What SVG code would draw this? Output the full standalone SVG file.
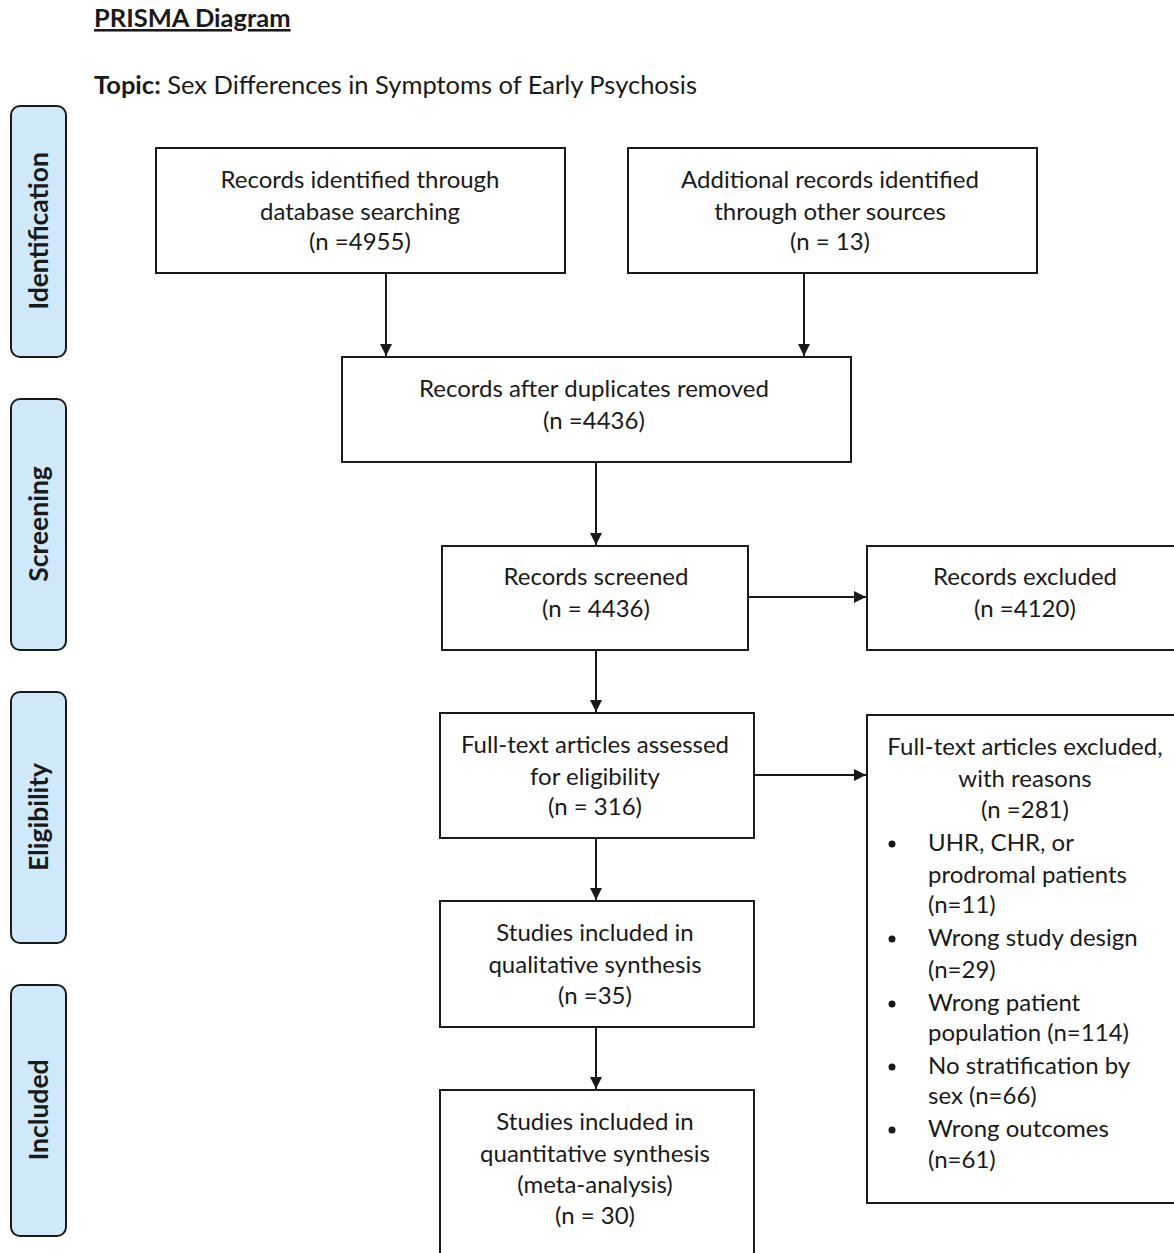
<svg xmlns="http://www.w3.org/2000/svg" width="1174" height="1253" viewBox="0 0 1174 1253">
<defs>
<style>
.t{font-family:Lato,"Liberation Sans",sans-serif;font-size:24px;fill:#1a1a1a}
.h{font-size:25.5px}
.c{text-anchor:middle}
.box{fill:#fff;stroke:#1a1a1a;stroke-width:2}
.side{fill:#cfe9fa;stroke:#1a1a1a;stroke-width:2}
.sl{font-family:Lato,"Liberation Sans",sans-serif;font-size:26.5px;font-weight:bold;fill:#1a1a1a;text-anchor:middle}
.con line{stroke:#1a1a1a;stroke-width:2}
</style>
<marker id="ah" viewBox="0 0 10 10" refX="10" refY="5" markerWidth="12" markerHeight="12" markerUnits="userSpaceOnUse" orient="auto">
<path d="M0,0 L10,5 L0,10 z" fill="#1a1a1a"/>
</marker>
</defs>
<rect width="1174" height="1253" fill="#fff"/>
<g id="title">
<text class="t h" x="94" y="27" font-weight="bold" text-decoration="underline">PRISMA Diagram</text>
<text class="t h" x="94" y="94"><tspan font-weight="bold">Topic:</tspan> Sex Differences in Symptoms of Early Psychosis</text>
</g>
<g id="side-identification">
<rect class="side" x="11" y="106" width="55" height="251" rx="9"/>
<text class="sl" transform="translate(48,231) rotate(-90)">Identification</text>
</g>
<g id="side-screening">
<rect class="side" x="11" y="399" width="55" height="251" rx="9"/>
<text class="sl" transform="translate(48,524) rotate(-90)">Screening</text>
</g>
<g id="side-eligibility">
<rect class="side" x="11" y="692" width="55" height="251" rx="9"/>
<text class="sl" transform="translate(48,817) rotate(-90)">Eligibility</text>
</g>
<g id="side-included">
<rect class="side" x="11" y="985" width="55" height="251" rx="9"/>
<text class="sl" transform="translate(48,1110) rotate(-90)">Included</text>
</g>
<g id="db-records">
<rect class="box" x="156" y="148" width="409" height="125"/>
<text class="t c" x="360" y="188">Records identified through</text>
<text class="t c" x="360" y="220">database searching</text>
<text class="t c" x="360" y="250">(n =4955)</text>
</g>
<g id="other-records">
<rect class="box" x="628" y="148" width="409" height="125"/>
<text class="t c" x="830" y="188">Additional records identified</text>
<text class="t c" x="830" y="220">through other sources</text>
<text class="t c" x="830" y="250">(n = 13)</text>
</g>
<g id="dedup">
<rect class="box" x="342" y="357" width="509" height="105"/>
<text class="t c" x="594" y="397">Records after duplicates removed</text>
<text class="t c" x="594" y="429">(n =4436)</text>
</g>
<g id="screened">
<rect class="box" x="442" y="546" width="306" height="104"/>
<text class="t c" x="596" y="585">Records screened</text>
<text class="t c" x="596" y="617">(n = 4436)</text>
</g>
<g id="excluded">
<rect class="box" x="867" y="546" width="318" height="104"/>
<text class="t c" x="1025" y="585">Records excluded</text>
<text class="t c" x="1025" y="617">(n =4120)</text>
</g>
<g id="fulltext">
<rect class="box" x="440" y="713" width="314" height="125"/>
<text class="t c" x="595" y="753">Full-text articles assessed</text>
<text class="t c" x="595" y="785">for eligibility</text>
<text class="t c" x="595" y="815">(n = 316)</text>
</g>
<g id="fulltext-excluded">
<rect class="box" x="867" y="715" width="318" height="488"/>
<text class="t c" x="1025" y="755">Full-text articles excluded,</text>
<text class="t c" x="1025" y="787">with reasons</text>
<text class="t c" x="1025" y="818">(n =281)</text>
<circle cx="892" cy="844" r="3.5" fill="#1a1a1a"/>
<text class="t" x="928" y="851">UHR, CHR, or</text>
<text class="t" x="928" y="883">prodromal patients</text>
<text class="t" x="928" y="913">(n=11)</text>
<circle cx="892" cy="939" r="3.5" fill="#1a1a1a"/>
<text class="t" x="928" y="946">Wrong study design</text>
<text class="t" x="928" y="978">(n=29)</text>
<circle cx="892" cy="1004" r="3.5" fill="#1a1a1a"/>
<text class="t" x="928" y="1011">Wrong patient</text>
<text class="t" x="928" y="1041">population (n=114)</text>
<circle cx="892" cy="1067" r="3.5" fill="#1a1a1a"/>
<text class="t" x="928" y="1074">No stratification by</text>
<text class="t" x="928" y="1104">sex (n=66)</text>
<circle cx="892" cy="1130" r="3.5" fill="#1a1a1a"/>
<text class="t" x="928" y="1137">Wrong outcomes</text>
<text class="t" x="928" y="1168">(n=61)</text>
</g>
<g id="qualitative">
<rect class="box" x="440" y="901" width="314" height="126"/>
<text class="t c" x="595" y="941">Studies included in</text>
<text class="t c" x="595" y="973">qualitative synthesis</text>
<text class="t c" x="595" y="1004">(n =35)</text>
</g>
<g id="quantitative">
<rect class="box" x="440" y="1090" width="314" height="190"/>
<text class="t c" x="595" y="1130">Studies included in</text>
<text class="t c" x="595" y="1162">quantitative synthesis</text>
<text class="t c" x="595" y="1193">(meta-analysis)</text>
<text class="t c" x="595" y="1224">(n = 30)</text>
</g>
<g id="connectors" class="con">
<line x1="386" y1="273" x2="386" y2="356" marker-end="url(#ah)"/>
<line x1="804" y1="273" x2="804" y2="356" marker-end="url(#ah)"/>
<line x1="596" y1="462" x2="596" y2="545" marker-end="url(#ah)"/>
<line x1="748" y1="597" x2="866" y2="597" marker-end="url(#ah)"/>
<line x1="596" y1="650" x2="596" y2="712" marker-end="url(#ah)"/>
<line x1="754" y1="775" x2="866" y2="775" marker-end="url(#ah)"/>
<line x1="596" y1="838" x2="596" y2="900" marker-end="url(#ah)"/>
<line x1="596" y1="1027" x2="596" y2="1089" marker-end="url(#ah)"/>
</g>
</svg>
